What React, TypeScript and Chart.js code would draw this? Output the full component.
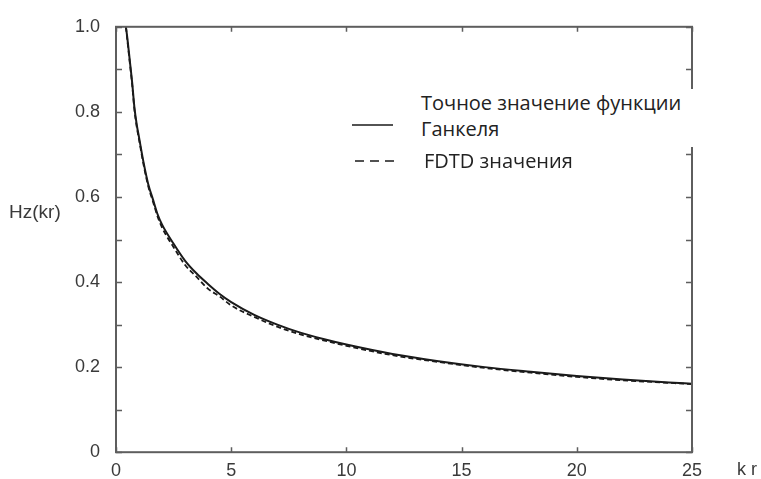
import React, { useEffect, useRef } from "react";
import { Chart, registerables } from "chart.js";

Chart.register(...registerables);

// ---- data ----
const krValues = [0.43, 0.5, 0.6, 0.7, 0.8, 0.9, 1.0, 1.2, 1.4, 1.6, 1.8, 2.0, 2.5, 3.0, 3.5, 4.0, 4.5, 5.0, 6.0, 7.0, 8.0, 9.0, 10, 12, 14, 16, 18, 20, 22, 24, 25];
const exactValues = [1.0, 0.97, 0.92, 0.87, 0.81, 0.77, 0.74, 0.68, 0.63, 0.595, 0.56, 0.535, 0.49, 0.45, 0.42, 0.395, 0.372, 0.353, 0.323, 0.3, 0.281, 0.266, 0.253, 0.231, 0.214, 0.2, 0.189, 0.179, 0.171, 0.164, 0.161];
const fdtdValues = [1.0, 0.965, 0.915, 0.865, 0.805, 0.765, 0.735, 0.675, 0.625, 0.59, 0.555, 0.528, 0.482, 0.44, 0.412, 0.384, 0.366, 0.345, 0.318, 0.295, 0.277, 0.263, 0.25, 0.228, 0.212, 0.198, 0.187, 0.177, 0.169, 0.163, 0.16];

const xTickValues = [0, 5, 10, 15, 20, 25];
const xTickLabels = ["0", "5", "10", "15", "20", "25"];
const yTickValues = [0, 0.1, 0.2, 0.3, 0.4, 0.5, 0.6, 0.7, 0.8, 0.9, 1.0];
const yLabelValues = [0, 0.2, 0.4, 0.6, 0.8, 1.0];
const yLabelTexts = ["0", "0.2", "0.4", "0.6", "0.8", "1.0"];

const seriesNames = ["Точное значение функции Ганкеля", "FDTD значения"];
const xAxisTitle = "k r";
const yAxisTitle = "Hz(kr)";

const frameColor = "#5e5e5e";
const lineColor = "#1a1a1a";
const textColor = "#3a3a3a";

const framePlugin = {
  id: "frame",
  afterDraw(chart: any) {
    const { ctx, chartArea, scales } = chart;
    const { left, right, top, bottom } = chartArea;
    const x = scales.x;
    const y = scales.y;
    ctx.save();
    ctx.strokeStyle = frameColor;
    ctx.lineWidth = 2;
    ctx.strokeRect(left, top, right - left, bottom - top);
    ctx.lineWidth = 1.5;
    ctx.beginPath();
    for (const v of yTickValues) {
      const py = Math.round(y.getPixelForValue(v)) + 0.5;
      ctx.moveTo(left, py);
      ctx.lineTo(left + 6, py);
      ctx.moveTo(right, py);
      ctx.lineTo(right - 6, py);
    }
    for (const v of xTickValues) {
      const px = Math.round(x.getPixelForValue(v)) + 0.5;
      ctx.moveTo(px, bottom);
      ctx.lineTo(px, bottom - 5);
      ctx.moveTo(px, top);
      ctx.lineTo(px, top + 5);
    }
    ctx.stroke();
    ctx.restore();
  },
};

export default function App() {
  const canvasRef = useRef<HTMLCanvasElement | null>(null);

  useEffect(() => {
    document.body.style.margin = "0";
    const canvas = canvasRef.current;
    if (!canvas) return;
    const chart = new Chart(canvas, {
      type: "line",
      data: {
        datasets: [
          {
            label: seriesNames[0],
            data: krValues.map((k, i) => ({ x: k, y: exactValues[i] })),
            borderColor: lineColor,
            borderWidth: 2,
            pointRadius: 0,
            cubicInterpolationMode: "monotone",
          },
          {
            label: seriesNames[1],
            data: krValues.map((k, i) => ({ x: k, y: fdtdValues[i] })),
            borderColor: lineColor,
            borderWidth: 1.8,
            borderDash: [5, 3],
            pointRadius: 0,
            cubicInterpolationMode: "monotone",
          },
        ],
      },
      options: {
        responsive: false,
        animation: false,
        layout: { padding: { left: 0, right: 69, top: 22, bottom: 0 } },
        plugins: { legend: { display: false }, tooltip: { enabled: false } },
        scales: {
          x: {
            type: "linear",
            min: 0,
            max: 25,
            afterFit: (s: any) => {
              s.height = 26;
            },
            afterBuildTicks: (s: any) => {
              s.ticks = xTickValues.map((v) => ({ value: v }));
            },
            grid: { display: false, drawTicks: false },
            border: { display: false },
            ticks: {
              padding: 8,
              color: textColor,
              font: { family: "'Liberation Sans', Arial, sans-serif", size: 18 },
              maxRotation: 0,
              autoSkip: false,
              callback: (v: any) => {
                const i = xTickValues.findIndex((t) => Math.abs(t - Number(v)) < 1e-6);
                return i >= 0 ? xTickLabels[i] : "";
              },
            },
          },
          y: {
            type: "linear",
            min: 0,
            max: 1,
            afterFit: (s: any) => {
              s.width = 116;
            },
            afterBuildTicks: (s: any) => {
              s.ticks = yLabelValues.map((v) => ({ value: v }));
            },
            grid: { display: false, drawTicks: false },
            border: { display: false },
            ticks: {
              padding: 16,
              color: textColor,
              font: { family: "'Liberation Sans', Arial, sans-serif", size: 18 },
              autoSkip: false,
              callback: (v: any) => {
                const i = yLabelValues.findIndex((t) => Math.abs(t - Number(v)) < 1e-6);
                return i >= 0 ? yLabelTexts[i] : "";
              },
            },
          },
        },
      },
      plugins: [framePlugin],
    } as any);
    return () => chart.destroy();
  }, []);

  const legendFont = "'Open Sans', 'Noto Sans', sans-serif";

  return (
    <div style={{ position: "relative", width: 761, height: 479, background: "#fff" }}>
      <canvas ref={canvasRef} width={761} height={479} style={{ display: "block" }} />
      <div
        style={{
          position: "absolute",
          left: 9,
          top: 200,
          fontFamily: "'Liberation Sans', Arial, sans-serif",
          fontSize: 19,
          color: textColor,
          lineHeight: "24px",
        }}
      >
        {yAxisTitle}
      </div>
      <div
        style={{
          position: "absolute",
          left: 737,
          top: 457,
          fontFamily: "'Liberation Sans', Arial, sans-serif",
          fontSize: 18,
          color: textColor,
          lineHeight: "24px",
          whiteSpace: "pre",
        }}
      >
        {xAxisTitle}
      </div>
      {/* legend */}
      <div
        style={{
          position: "absolute",
          left: 415,
          top: 89,
          width: 290,
          height: 58,
          background: "#fff",
        }}
      />
      <svg
        width={50}
        height={50}
        style={{ position: "absolute", left: 350, top: 115 }}
      >
        <line x1={2} y1={10} x2={43} y2={10} stroke={lineColor} strokeWidth={1.6} />
        <line x1={5} y1={46} x2={46} y2={46} stroke={lineColor} strokeWidth={1.6} strokeDasharray="9 6" />
      </svg>
      <div
        style={{
          position: "absolute",
          left: 421,
          top: 90,
          fontFamily: legendFont,
          fontSize: 20,
          lineHeight: "26px",
          color: "#222",
          whiteSpace: "pre",
        }}
      >
        {"Точное значение функции\nГанкеля"}
      </div>
      <div
        style={{
          position: "absolute",
          left: 424,
          top: 148,
          fontFamily: legendFont,
          fontSize: 20,
          lineHeight: "26px",
          color: "#222",
          whiteSpace: "pre",
        }}
      >
        {seriesNames[1]}
      </div>
    </div>
  );
}
